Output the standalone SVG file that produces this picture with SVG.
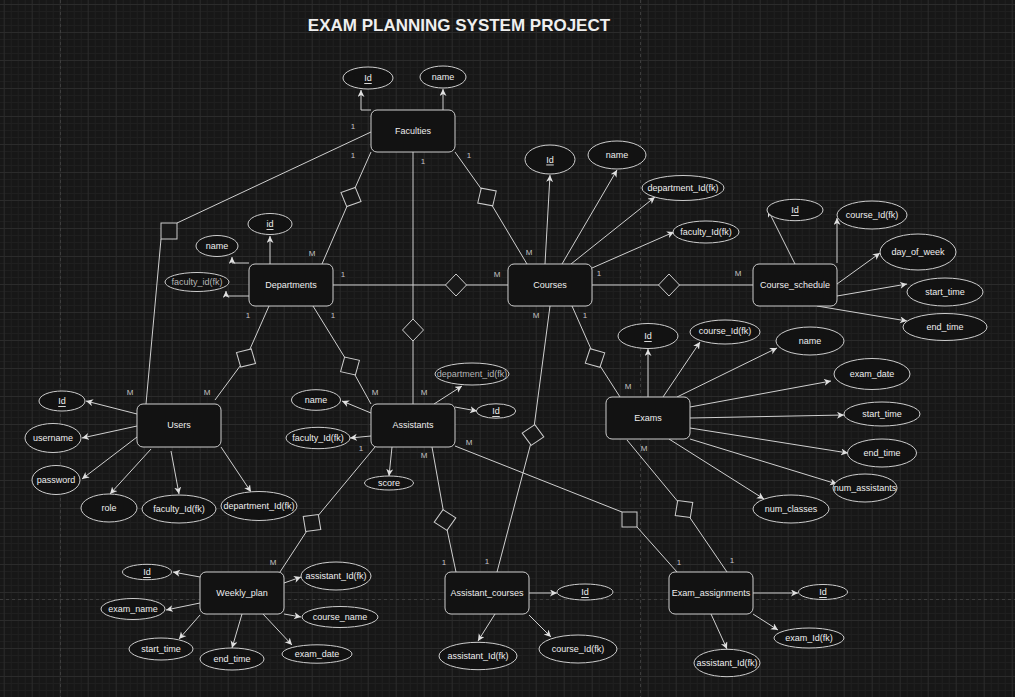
<svg xmlns="http://www.w3.org/2000/svg" width="1015" height="697" viewBox="0 0 1015 697">
<style>
.ent{fill:#121212;stroke:#cdcdcd;stroke-width:1}
.at{fill:#121212;stroke:#cdcdcd;stroke-width:1}
.rel{fill:#181818;stroke:#cdcdcd;stroke-width:1}
.t{font-family:"Liberation Sans",Arial,Helvetica,sans-serif;font-size:9px;fill:#efefef;text-anchor:middle;dominant-baseline:central}
.g{fill:#b5b5b5}
.u{text-decoration:underline}
.c{font-family:"Liberation Sans",Arial,Helvetica,sans-serif;font-size:8px;fill:#c4c4c4;text-anchor:middle;dominant-baseline:central}
.ln{stroke:#cfcfcf;stroke-width:1;fill:none}
.ar{marker-end:url(#arr)}
.pg{stroke:#3c3c3c;stroke-width:1;stroke-dasharray:3 3;fill:none}
</style>
<defs>
<pattern id="grid" width="28" height="28" patternUnits="userSpaceOnUse" x="3.7" y="4">
<path d="M7.5 0V28M14.5 0V28M21.5 0V28M0 7.5H28M0 14.5H28M0 21.5H28" stroke="#1f1f1f" stroke-width="1"/>
<path d="M0.5 0V28M0 0.5H28" stroke="#2b2b2b" stroke-width="1"/>
</pattern>
<marker id="arr" markerWidth="8" markerHeight="8" refX="7" refY="3.5" orient="auto" markerUnits="userSpaceOnUse">
<path d="M0,0 L7,3.5 L0,7 L2,3.5 z" fill="#e0e0e0"/>
</marker>
<polygon id="dia" points="0,-11 10.5,0 0,11 -10.5,0"/>
</defs>
<rect width="1015" height="697" fill="#171717"/>
<rect width="1015" height="697" fill="url(#grid)"/>
<path class="pg" d="M60.5 0V697M640.5 0V697M0 599.5H1015"/>

<text x="459" y="31" font-family="'Liberation Sans',Arial,sans-serif" font-size="17" font-weight="bold" fill="#efefef" text-anchor="middle">EXAM PLANNING SYSTEM PROJECT</text>

<g id="connectors">
<!-- Faculties -->
<polyline class="ln ar" points="371,110 361,110 361,90"/>
<line class="ln ar" x1="443" y1="110" x2="443" y2="89"/>
<line class="ln" x1="371" y1="132" x2="177" y2="223"/>
<line class="ln" x1="161" y1="239" x2="146" y2="404"/>
<polyline class="ln" points="371,152 351,197 322,264"/>
<line class="ln" x1="413" y1="152" x2="413" y2="404"/>
<polyline class="ln" points="455,152 487,197 527,264"/>
<!-- Departments -->
<line class="ln ar" x1="270" y1="264" x2="270" y2="236"/>
<polyline class="ln ar" points="249,263 232,263 232,257"/>
<polyline class="ln ar" points="249,296 226,296 226,291"/>
<line class="ln" x1="333" y1="285" x2="508" y2="285"/>
<polyline class="ln" points="269,306 246,358 215,400"/>
<polyline class="ln" points="313,306 350,366 371,404"/>
<!-- Courses -->
<line class="ln ar" x1="545" y1="264" x2="550" y2="175"/>
<line class="ln ar" x1="562" y1="264" x2="617" y2="170"/>
<line class="ln ar" x1="571" y1="264" x2="655" y2="197"/>
<line class="ln ar" x1="592" y1="268" x2="674" y2="232"/>
<line class="ln" x1="592" y1="285" x2="753" y2="285"/>
<polyline class="ln" points="572,306 595,358 620,397"/>
<polyline class="ln" points="550,306 533,435 497,572"/>
<!-- Course_schedule -->
<line class="ln ar" x1="795" y1="264" x2="768" y2="210"/>
<line class="ln ar" x1="837" y1="263" x2="837" y2="218"/>
<line class="ln ar" x1="837" y1="284" x2="880" y2="253"/>
<line class="ln ar" x1="837" y1="296" x2="907" y2="284"/>
<line class="ln ar" x1="817" y1="306" x2="907" y2="321"/>
<!-- Users -->
<line class="ln ar" x1="137" y1="414" x2="86" y2="401"/>
<line class="ln ar" x1="137" y1="426" x2="82" y2="438"/>
<line class="ln ar" x1="137" y1="437" x2="82" y2="479"/>
<line class="ln ar" x1="151" y1="449" x2="110" y2="494"/>
<line class="ln ar" x1="171" y1="451" x2="179" y2="494"/>
<line class="ln ar" x1="221" y1="447" x2="251" y2="492"/>
<!-- Assistants -->
<line class="ln ar" x1="371" y1="413" x2="342" y2="401"/>
<line class="ln ar" x1="371" y1="436" x2="350" y2="438"/>
<line class="ln ar" x1="434" y1="404" x2="462" y2="386"/>
<line class="ln ar" x1="455" y1="407" x2="477" y2="411"/>
<line class="ln ar" x1="392" y1="447" x2="389" y2="476"/>
<polyline class="ln" points="375,447 312,523 280,572"/>
<polyline class="ln" points="432,447 445,520 456,572"/>
<line class="ln" x1="455" y1="446" x2="622" y2="512"/>
<line class="ln" x1="637" y1="527" x2="677" y2="572"/>
<!-- Exams -->
<line class="ln ar" x1="648" y1="397" x2="648" y2="349"/>
<line class="ln ar" x1="663" y1="397" x2="700" y2="342"/>
<line class="ln ar" x1="677" y1="397" x2="777" y2="348"/>
<line class="ln ar" x1="690" y1="407" x2="831" y2="381"/>
<line class="ln ar" x1="690" y1="418" x2="844" y2="415"/>
<line class="ln ar" x1="690" y1="428" x2="848" y2="453"/>
<line class="ln ar" x1="690" y1="439" x2="837" y2="484"/>
<line class="ln ar" x1="669" y1="439" x2="764" y2="499"/>
<polyline class="ln" points="627,440 684,509 727,572"/>
<!-- Weekly_plan -->
<line class="ln ar" x1="200" y1="577" x2="173" y2="572"/>
<line class="ln ar" x1="200" y1="603" x2="166" y2="610"/>
<line class="ln ar" x1="200" y1="615" x2="179" y2="639"/>
<line class="ln ar" x1="242" y1="614" x2="232" y2="648"/>
<line class="ln ar" x1="263" y1="614" x2="292" y2="645"/>
<line class="ln ar" x1="284" y1="614" x2="301" y2="617"/>
<line class="ln ar" x1="284" y1="583" x2="301" y2="577"/>
<!-- Assistant_courses -->
<line class="ln ar" x1="529" y1="593" x2="557" y2="593"/>
<line class="ln ar" x1="495" y1="614" x2="478" y2="641"/>
<line class="ln ar" x1="529" y1="615" x2="551" y2="637"/>
<!-- Exam_assignments -->
<line class="ln ar" x1="753" y1="593" x2="798" y2="593"/>
<line class="ln ar" x1="753" y1="614" x2="778" y2="630"/>
<line class="ln ar" x1="711" y1="614" x2="727" y2="649"/>
</g>

<g id="relationships">
<use href="#dia" class="rel" transform="translate(351,197) rotate(114)"/>
<use href="#dia" class="rel" transform="translate(487,197) rotate(57)"/>
<use href="#dia" class="rel" transform="translate(456,285)"/>
<use href="#dia" class="rel" transform="translate(669,285)"/>
<use href="#dia" class="rel" transform="translate(413,330)"/>
<use href="#dia" class="rel" transform="translate(246,358) rotate(120)"/>
<use href="#dia" class="rel" transform="translate(350,366) rotate(59)"/>
<use href="#dia" class="rel" transform="translate(595,358) rotate(62)"/>
<use href="#dia" class="rel" transform="translate(533,435) rotate(100)"/>
<use href="#dia" class="rel" transform="translate(445,520) rotate(79)"/>
<use href="#dia" class="rel" transform="translate(312,523) rotate(127)"/>
<use href="#dia" class="rel" transform="translate(684,509) rotate(53)"/>
<rect class="rel" x="161" y="223" width="16" height="16"/>
<rect class="rel" x="622" y="512" width="15" height="15"/>
</g>

<g id="cardinalities">
<text class="c" x="353" y="126">1</text>
<text class="c" x="353" y="155">1</text>
<text class="c" x="423" y="161">1</text>
<text class="c" x="469" y="155">1</text>
<text class="c" x="312" y="253">M</text>
<text class="c" x="343" y="274">1</text>
<text class="c" x="248" y="315">1</text>
<text class="c" x="333" y="315">1</text>
<text class="c" x="529" y="252">M</text>
<text class="c" x="497" y="274">M</text>
<text class="c" x="599" y="273">1</text>
<text class="c" x="536" y="315">M</text>
<text class="c" x="585" y="315">1</text>
<text class="c" x="738" y="273">M</text>
<text class="c" x="130" y="392">M</text>
<text class="c" x="207" y="392">M</text>
<text class="c" x="375" y="392">M</text>
<text class="c" x="424" y="392">M</text>
<text class="c" x="361" y="448">1</text>
<text class="c" x="424" y="455">M</text>
<text class="c" x="469" y="442">M</text>
<text class="c" x="628" y="386">M</text>
<text class="c" x="644" y="448">M</text>
<text class="c" x="273" y="562">M</text>
<text class="c" x="444" y="562">1</text>
<text class="c" x="487" y="561">1</text>
<text class="c" x="679" y="562">1</text>
<text class="c" x="732" y="560">1</text>
</g>

<g id="faculties">
<rect class="ent" x="371" y="110" width="84" height="42" rx="6"/>
<text class="t" x="413" y="131">Faculties</text>
<ellipse class="at" cx="368" cy="78" rx="25" ry="11"/><text class="t u" x="368" y="78">Id</text>
<ellipse class="at" cx="443" cy="77" rx="23" ry="11"/><text class="t" x="443" y="77">name</text>
</g>

<g id="departments">
<rect class="ent" x="249" y="264" width="84" height="42" rx="6"/>
<text class="t" x="291" y="285">Departments</text>
<ellipse class="at" cx="270" cy="224" rx="22" ry="10.5"/><text class="t u" x="270" y="224">id</text>
<ellipse class="at" cx="217" cy="246" rx="21" ry="10.5"/><text class="t" x="217" y="246">name</text>
<ellipse class="at" cx="197" cy="282" rx="32" ry="9.5"/><text class="t g" x="197" y="282">faculty_id(fk)</text>
</g>

<g id="courses">
<rect class="ent" x="508" y="264" width="84" height="42" rx="6"/>
<text class="t" x="550" y="285">Courses</text>
<ellipse class="at" cx="550" cy="159.5" rx="25" ry="14.5"/><text class="t u" x="550" y="159.5">Id</text>
<ellipse class="at" cx="617" cy="155" rx="29" ry="14"/><text class="t" x="617" y="155">name</text>
<ellipse class="at" cx="683" cy="188" rx="41" ry="12.5"/><text class="t" x="683" y="188">department_Id(fk)</text>
<ellipse class="at" cx="706" cy="232" rx="33" ry="11"/><text class="t" x="706" y="232">faculty_Id(fk)</text>
</g>

<g id="course_schedule">
<rect class="ent" x="753" y="264" width="84" height="42" rx="6"/>
<text class="t" x="795" y="285">Course_schedule</text>
<ellipse class="at" cx="795" cy="210" rx="28" ry="10.7"/><text class="t u" x="795" y="210">Id</text>
<ellipse class="at" cx="872" cy="215" rx="35" ry="14"/><text class="t" x="872" y="215">course_Id(fk)</text>
<ellipse class="at" cx="918" cy="252" rx="38" ry="18"/><text class="t" x="918" y="252">day_of_week</text>
<ellipse class="at" cx="945" cy="292" rx="38" ry="14"/><text class="t" x="945" y="292">start_time</text>
<ellipse class="at" cx="945" cy="327" rx="42" ry="13.5"/><text class="t" x="945" y="327">end_time</text>
</g>

<g id="users">
<rect class="ent" x="137" y="404" width="84" height="43" rx="6"/>
<text class="t" x="179" y="425">Users</text>
<ellipse class="at" cx="62" cy="401" rx="23" ry="10"/><text class="t u" x="62" y="401">Id</text>
<ellipse class="at" cx="53" cy="438" rx="28" ry="14.5"/><text class="t" x="53" y="438">username</text>
<ellipse class="at" cx="56" cy="480" rx="24" ry="14.5"/><text class="t" x="56" y="480">password</text>
<ellipse class="at" cx="109" cy="508" rx="28" ry="14"/><text class="t" x="109" y="508">role</text>
<ellipse class="at" cx="179" cy="509" rx="37" ry="14"/><text class="t" x="179" y="509">faculty_Id(fk)</text>
<ellipse class="at" cx="259" cy="506" rx="38" ry="14.5"/><text class="t" x="259" y="506">department_Id(fk)</text>
</g>

<g id="assistants">
<rect class="ent" x="371" y="404" width="84" height="43" rx="6"/>
<text class="t" x="413" y="425">Assistants</text>
<ellipse class="at" cx="316" cy="400" rx="24.5" ry="10.3"/><text class="t" x="316" y="400">name</text>
<ellipse class="at" cx="318" cy="438" rx="32" ry="10.7"/><text class="t" x="318" y="438">faculty_Id(fk)</text>
<ellipse class="at" cx="472" cy="374" rx="37" ry="11"/><text class="t g" x="472" y="374">department_id(fk)</text>
<ellipse class="at" cx="496" cy="411" rx="19.7" ry="7.2"/><text class="t u" x="496" y="411">Id</text>
<ellipse class="at" cx="389" cy="483" rx="24.5" ry="7"/><text class="t" x="389" y="483">score</text>
</g>

<g id="exams">
<rect class="ent" x="606" y="397" width="84" height="42" rx="6"/>
<text class="t" x="648" y="418">Exams</text>
<ellipse class="at" cx="648" cy="336" rx="30" ry="12.5"/><text class="t u" x="648" y="336">Id</text>
<ellipse class="at" cx="725" cy="332" rx="35" ry="12"/><text class="t" x="725" y="331">course_Id(fk)</text>
<ellipse class="at" cx="810" cy="341" rx="34" ry="14"/><text class="t" x="810" y="341">name</text>
<ellipse class="at" cx="872" cy="374" rx="38" ry="15.5"/><text class="t" x="872" y="374">exam_date</text>
<ellipse class="at" cx="882" cy="414" rx="38" ry="12"/><text class="t" x="882" y="414">start_time</text>
<ellipse class="at" cx="882" cy="453" rx="34.5" ry="14"/><text class="t" x="882" y="453">end_time</text>
<ellipse class="at" cx="865" cy="488" rx="32" ry="14"/><text class="t" x="865" y="488">num_assistants</text>
<ellipse class="at" cx="791" cy="509" rx="38" ry="14"/><text class="t" x="791" y="509">num_classes</text>
</g>

<g id="weekly_plan">
<rect class="ent" x="200" y="572" width="84" height="42" rx="6"/>
<text class="t" x="242" y="593">Weekly_plan</text>
<ellipse class="at" cx="147" cy="572" rx="24.5" ry="7.7"/><text class="t u" x="147" y="572">Id</text>
<ellipse class="at" cx="133" cy="609" rx="32" ry="10.5"/><text class="t" x="133" y="609">exam_name</text>
<ellipse class="at" cx="161" cy="649" rx="32" ry="11"/><text class="t" x="161" y="649">start_time</text>
<ellipse class="at" cx="232" cy="659" rx="32" ry="11"/><text class="t" x="232" y="659">end_time</text>
<ellipse class="at" cx="317" cy="654" rx="35" ry="9.2"/><text class="t" x="317" y="654">exam_date</text>
<ellipse class="at" cx="340" cy="617" rx="38" ry="10.5"/><text class="t" x="340" y="617">course_name</text>
<ellipse class="at" cx="336" cy="576" rx="35" ry="14"/><text class="t" x="336" y="576">assistant_Id(fk)</text>
</g>

<g id="assistant_courses">
<rect class="ent" x="445" y="572" width="84" height="42" rx="6"/>
<text class="t" x="487" y="593">Assistant_courses</text>
<ellipse class="at" cx="585" cy="592" rx="28" ry="8"/><text class="t u" x="585" y="592">Id</text>
<ellipse class="at" cx="478" cy="656" rx="39" ry="13.7"/><text class="t" x="478" y="656">assistant_Id(fk)</text>
<ellipse class="at" cx="578" cy="649" rx="39" ry="14"/><text class="t" x="578" y="649">course_Id(fk)</text>
</g>

<g id="exam_assignments">
<rect class="ent" x="669" y="572" width="84" height="42" rx="6"/>
<text class="t" x="711" y="593">Exam_assignments</text>
<ellipse class="at" cx="823" cy="592" rx="24.5" ry="7.5"/><text class="t u" x="823" y="592">Id</text>
<ellipse class="at" cx="809" cy="638" rx="35" ry="10"/><text class="t" x="809" y="638">exam_Id(fk)</text>
<ellipse class="at" cx="727" cy="663" rx="33" ry="13.7"/><text class="t" x="727" y="663">assistant_Id(fk)</text>
</g>
</svg>
